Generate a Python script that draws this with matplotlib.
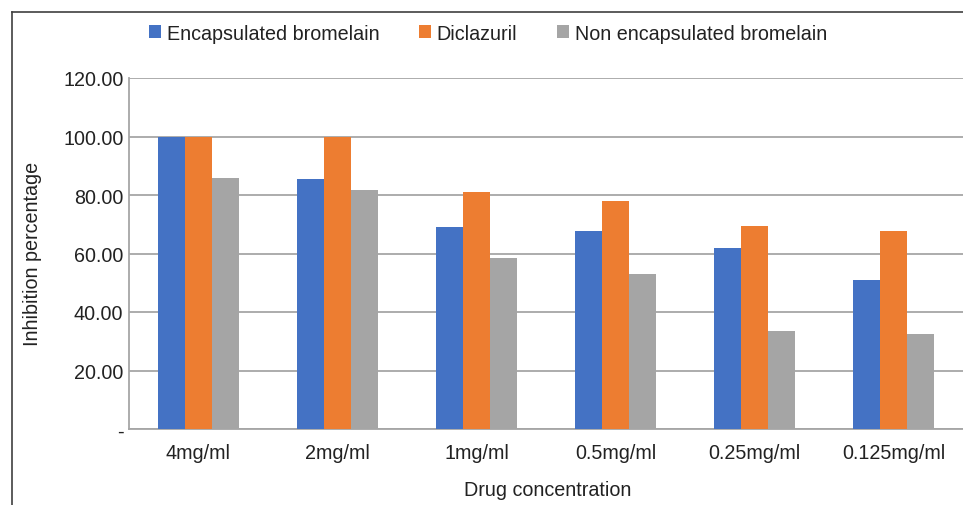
import matplotlib.pyplot as plt
import numpy as np
from matplotlib.lines import Line2D
from matplotlib.patches import Patch

plt.rcParams["font.family"] = ["Liberation Sans", "DejaVu Sans"]

# Data
concentrations = ["4mg/ml", "2mg/ml", "1mg/ml", "0.5mg/ml", "0.25mg/ml", "0.125mg/ml"]
encapsulated = [100.0, 85.5, 69.1, 67.7, 61.9, 50.9]
diclazuril = [100.0, 100.0, 81.0, 78.0, 69.4, 67.7]
non_encapsulated = [85.8, 81.7, 58.5, 53.0, 33.5, 32.5]

series = [
    ("Encapsulated bromelain", encapsulated, "#4472C4"),
    ("Diclazuril", diclazuril, "#ED7D31"),
    ("Non encapsulated bromelain", non_encapsulated, "#A5A5A5"),
]

FS = 14.2

fig = plt.figure(figsize=(9.63, 5.06), dpi=100)
ax = fig.add_axes([129 / 963, 76 / 506, 1 - 129 / 963, 351 / 506])

x = np.arange(len(concentrations))
width = 0.194
for i, (label, vals, color) in enumerate(series):
    ax.bar(x + (i - 1) * width, vals, width, color=color, label=label, zorder=3)

ax.set_xlim(-0.5, len(concentrations) - 0.5)
ax.set_ylim(0, 120)
yt = np.arange(0, 121, 20)
ax.set_yticks(yt)
ax.set_yticklabels(["-"] + [f"{v:.2f}" for v in yt[1:]])
ax.set_xticks(x)
ax.set_xticklabels(concentrations)
ax.tick_params(axis="both", length=0, labelsize=FS, colors="#222222")
ax.tick_params(axis="y", pad=4)
ax.tick_params(axis="x", pad=10)
ax.grid(axis="y", color="#A6A6A6", linewidth=1.3, zorder=0)

for side in ["top", "right"]:
    ax.spines[side].set_visible(False)
for side in ["left", "bottom"]:
    ax.spines[side].set_color("#A6A6A6")
    ax.spines[side].set_linewidth(1.3)

fig.text(33 / 963, 1 - 254 / 506, "Inhibition percentage", rotation=90,
         ha="center", va="center", fontsize=FS, color="#222222")
fig.text(548 / 963, 1 - 491 / 506, "Drug concentration",
         ha="center", va="center", fontsize=FS, color="#222222")

handles = [Patch(facecolor=c, edgecolor="none", label=l) for l, _, c in series]
fig.legend(handles=handles, loc="center", bbox_to_anchor=(488 / 963, 1 - 34 / 506),
           ncol=3, frameon=False, fontsize=FS, handlelength=0.62, handleheight=0.62,
           handletextpad=0.28, columnspacing=2.0, labelcolor="#222222")

# outer chart frame (only top and left edges visible in the crop)
fig.add_artist(Line2D([12 / 963, 12 / 963], [0, 1 - 13 / 506], transform=fig.transFigure,
                      color="#404040", linewidth=1.2))
fig.add_artist(Line2D([12 / 963, 1], [1 - 13 / 506, 1 - 13 / 506], transform=fig.transFigure,
                      color="#404040", linewidth=1.2))

fig.savefig("out.png", dpi=100)
